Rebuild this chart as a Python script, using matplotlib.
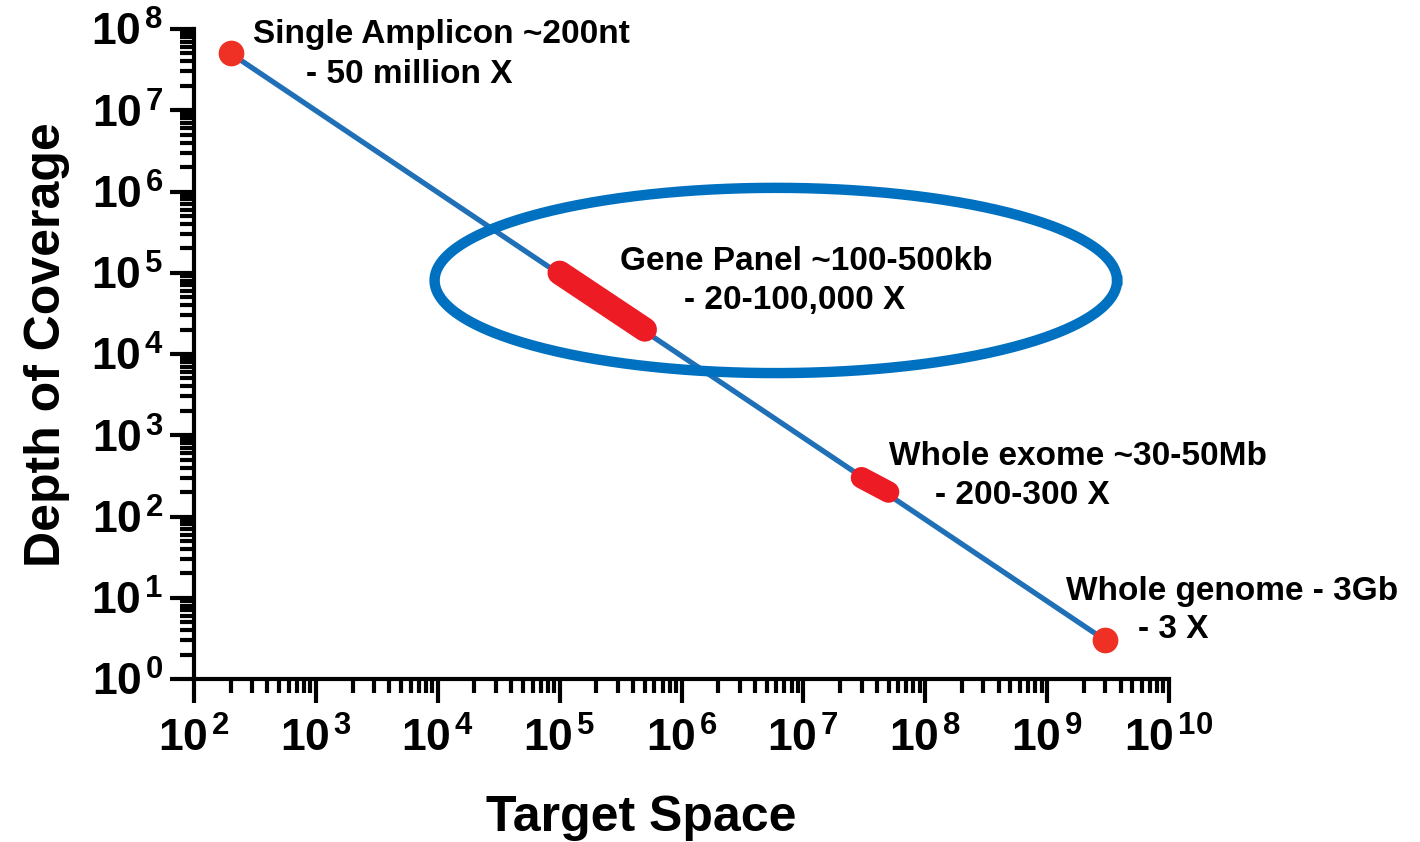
import numpy as np
import matplotlib
matplotlib.use("Agg")
import matplotlib.pyplot as plt
from matplotlib.ticker import FuncFormatter, LogLocator

## Data
# line through the sequencing strategies
line_x = [200, 3e9]
line_y = [5e7, 3]

# single points (amplicon, genome)
point_x = [200, 3e9]
point_y = [5e7, 3]

# ranges (gene panel, exome)
panel_x = [1e5, 5e5]
panel_y = [1e5, 2e4]
exome_x = [3e7, 5e7]
exome_y = [300, 200]

# ellipse around the gene panel (log10 centre and half-widths)
ell_cx, ell_cy = 6.774, 4.905
ell_rx, ell_ry = 2.80, 1.14

labels_line1 = ["Single Amplicon ~200nt", "Gene Panel ~100-500kb",
                "Whole exome ~30-50Mb", "Whole genome - 3Gb"]
labels_line2 = ["- 50 million X", "- 20-100,000 X", "- 200-300 X", "- 3 X"]

## Style
plt.rcParams['font.family'] = ['Liberation Sans', 'DejaVu Sans']
plt.rcParams['font.weight'] = 'bold'
plt.rcParams['mathtext.fontset'] = 'custom'
plt.rcParams['mathtext.rm'] = 'Liberation Sans'
plt.rcParams['mathtext.bf'] = 'Liberation Sans:bold'

fig = plt.figure(figsize=(14.2, 8.42), dpi=100)
ax = fig.add_axes([194 / 1420, 1 - 679 / 842, 975 / 1420, 650 / 842])
ax.set_xscale('log')
ax.set_yscale('log')
ax.set_xlim(1e2, 1e10)
ax.set_ylim(1e0, 1e8)

# ellipse drawn in log space
t = np.linspace(0, 2 * np.pi, 400)
ax.plot(10 ** (ell_cx + ell_rx * np.cos(t)), 10 ** (ell_cy + ell_ry * np.sin(t)),
        color='#0070c0', lw=7.5, zorder=3)

ax.plot(line_x, line_y, color='#1f70b6', lw=3.8, zorder=2)
ax.plot(panel_x, panel_y, color='#ed1c24', lw=17.5, solid_capstyle='round', zorder=4)
ax.plot(exome_x, exome_y, color='#ed1c24', lw=15.5, solid_capstyle='round', zorder=4)
ax.plot(point_x, point_y, 'o', color='#ee3124', ms=17.5, zorder=5, clip_on=False)

# annotations (axes fraction positions)
pos1 = [(0.0605, 0.9785), (0.4369, 0.6292), (0.7128, 0.3292), (0.8944, 0.1215)]
pos2 = [(0.1149, 0.917), (0.5026, 0.5692), (0.76, 0.2692), (0.9682, 0.0631)]
for lab, (px, py) in zip(labels_line1, pos1):
    ax.text(px, py, lab, transform=ax.transAxes, fontsize=24, fontweight='bold',
            ha='left', va='baseline', clip_on=False)
for lab, (px, py) in zip(labels_line2, pos2):
    ax.text(px, py, lab, transform=ax.transAxes, fontsize=24, fontweight='bold',
            ha='left', va='baseline', clip_on=False)

# axes look
for s in ['top', 'right']:
    ax.spines[s].set_visible(False)
for s in ['left', 'bottom']:
    ax.spines[s].set_linewidth(3)

ax.xaxis.set_major_locator(LogLocator(base=10, numticks=20))
ax.yaxis.set_major_locator(LogLocator(base=10, numticks=20))
ax.xaxis.set_minor_locator(LogLocator(base=10, subs=np.arange(2, 10), numticks=20))
ax.yaxis.set_minor_locator(LogLocator(base=10, subs=np.arange(2, 10), numticks=20))
fmt = FuncFormatter(lambda v, p: r'$\mathbf{10}^{\hspace{0.12}\mathbf{%d}}$' % int(round(np.log10(v))))
ax.xaxis.set_major_formatter(fmt)
ax.yaxis.set_major_formatter(fmt)
ax.tick_params(which='major', length=17, width=3, labelsize=32, direction='out')
ax.tick_params(which='minor', length=10, width=3, direction='out')
ax.tick_params(axis='x', which='major', pad=11)
ax.tick_params(axis='y', which='major', pad=5)

ax.set_xlabel('Target Space', fontsize=36, fontweight='bold')
ax.set_ylabel('Depth of Coverage', fontsize=36, fontweight='bold')
ax.xaxis.set_label_coords(0.459, -0.178)
ax.yaxis.set_label_coords(-0.127, 0.515)

fig.savefig('out.png', dpi=100)
